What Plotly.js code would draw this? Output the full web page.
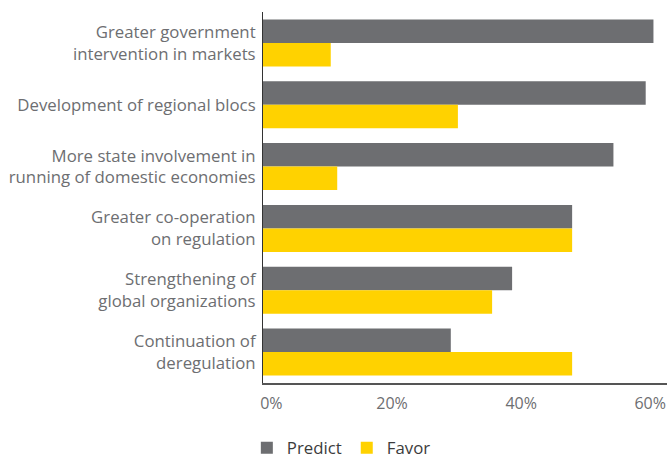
<!DOCTYPE html>
<html>
<head>
<meta charset="utf-8">
<script src="https://cdn.plot.ly/plotly-3.0.1.min.js"></script>
<style>html,body{margin:0;padding:0;background:#fff;}#chart{width:667px;height:462px;}</style>
</head>
<body>
<div id="chart"></div>
<script>
var categories = [
  "Greater government<br>intervention in markets",
  "Development of regional blocs",
  "More state involvement in<br>running of domestic economies",
  "Greater co-operation<br>on regulation",
  "Strengthening of<br>global organizations",
  "Continuation of<br>deregulation"
];
var predictValues = [60.5, 59.3, 54.3, 47.9, 38.6, 29.1];
var favorValues = [10.5, 30.2, 11.5, 47.9, 35.5, 47.9];
var tickValues = [0, 20, 40, 60];
var tickLabels = ["\u00a0\u00a0\u00a0\u00a00%", "20%", "40%", "60%"];

var textColor = "#6d6e71";
var traces = [
  {type: "bar", orientation: "h", name: "Predict", y: categories, x: predictValues,
   marker: {color: "#6d6e71"}, hoverinfo: "x+name"},
  {type: "bar", orientation: "h", name: "Favor", y: categories, x: favorValues,
   marker: {color: "#ffd200"}, hoverinfo: "x+name"}
];
var layout = {
  width: 667, height: 462,
  margin: {l: 263, r: 0, t: 12, b: 79, pad: 0, autoexpand: false},
  paper_bgcolor: "#fff", plot_bgcolor: "#fff",
  font: {family: "Open Sans, sans-serif", size: 16.8, color: textColor},
  barmode: "group", bargap: 0.24, bargroupgap: 0,
  showlegend: true,
  legend: {orientation: "h", x: -0.04, xanchor: "left", y: -0.175, yanchor: "middle",
           font: {size: 16.8, color: "#3c3c3c"}, traceorder: "normal"},
  xaxis: {range: [0, 62.6], tickvals: tickValues, ticktext: tickLabels, showgrid: false,
          zeroline: false, showline: true, linecolor: "#555", linewidth: 1.5, ticks: "",
          ticklabeloverflow: "allow", ticklabelstandoff: 5, automargin: false,
          fixedrange: true, tickfont: {size: 16, color: textColor}},
  yaxis: {autorange: "reversed", showgrid: false, zeroline: false, showline: true,
          linecolor: "#333", linewidth: 1, ticks: "", ticklabelstandoff: 3,
          tickfont: {size: 16.8, color: textColor}, automargin: false, fixedrange: true}
};
Plotly.newPlot("chart", traces, layout, {displayModeBar: false, staticPlot: true});
</script>
</body>
</html>
